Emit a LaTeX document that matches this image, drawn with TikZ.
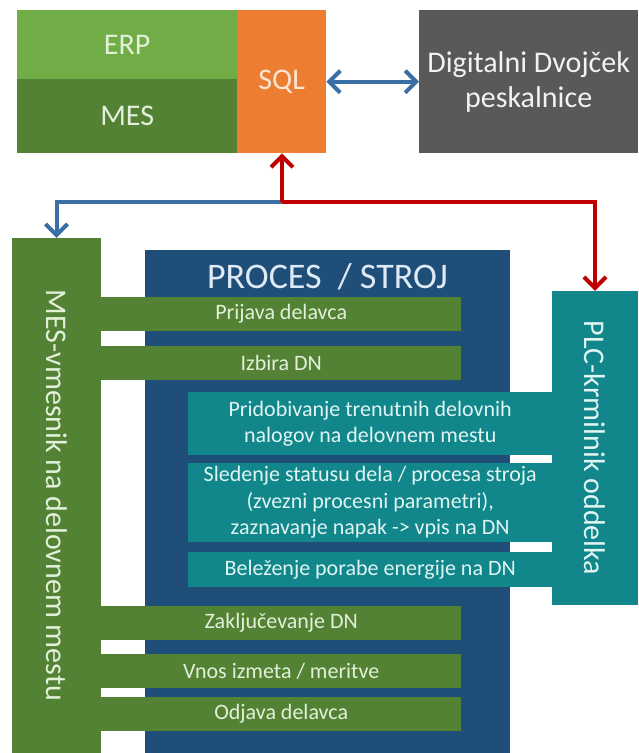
\documentclass[tikz,border=0pt]{standalone}
\usepackage{fontspec}
\setmainfont{Carlito}
\usetikzlibrary{arrows.meta}

\definecolor{erpgreen}{HTML}{70AD47}
\definecolor{mesgreen}{HTML}{548235}
\definecolor{sqlorange}{HTML}{ED7D31}
\definecolor{twingray}{HTML}{595959}
\definecolor{procblue}{HTML}{1F4E79}
\definecolor{plcteal}{HTML}{11878B}
\definecolor{linkblue}{HTML}{3A6FA6}
\definecolor{linkred}{HTML}{C00000}
\definecolor{greentext}{HTML}{E2F0D9}
\definecolor{orangetext}{HTML}{FBE5D6}
\definecolor{graytext}{HTML}{F2F2F2}
\definecolor{blutext}{HTML}{DEEBF7}
\definecolor{tealtext}{HTML}{E0F4F2}

\begin{document}
\begin{tikzpicture}[x=1pt, y=-1pt,
    box/.style={anchor=north west, inner sep=0pt, align=center},
    bigtext/.style={font=\fontsize{30}{35}\selectfont},
    bartext/.style={font=\fontsize{22}{26.5}\selectfont},
    greenbar/.style={box, fill=mesgreen, text=greentext, bartext, minimum width=360pt, minimum height=34pt},
    tealbar/.style={box, fill=plcteal, text=tealtext, bartext, minimum width=364pt},
    upright/.style={inner sep=0pt, rotate=-90, bigtext},
    link/.style={line width=4pt, -{Straight Barb[length=11pt,width=22pt]}}]
  \useasboundingbox (0,0) rectangle (638,753);

  % top row
  \node[box, fill=erpgreen, text=greentext, bigtext, minimum width=220pt, minimum height=69pt] (erp) at (17,10) {ERP};
  \node[box, fill=mesgreen, text=greentext, bigtext, minimum width=220pt, minimum height=74pt] (mes) at (17,79) {MES};
  \node[box, fill=sqlorange, text=orangetext, bigtext, minimum width=89pt, minimum height=143pt] (sql) at (237,10) {SQL};
  \node[box, fill=twingray, text=graytext, bigtext, minimum width=219pt, minimum height=143pt] (twin) at (419,10) {Digitalni Dvojček\\peskalnice};

  % process / machine
  \node[box, fill=procblue, minimum width=365pt, minimum height=503pt] (proces) at (145,250) {};
  \node[font=\fontsize{36}{40}\selectfont, text=blutext] (title) at (327.5,277) {PROCES\ \ / STROJ};

  \node[upright, fill=mesgreen, text=greentext, minimum width=515pt, minimum height=89pt] (vmesnik) at (56.5,495.5) {MES-vmesnik na delovnem mestu};
  \node[upright, fill=plcteal, text=tealtext, minimum width=314pt, minimum height=86pt] (plc) at (595,448) {PLC-krmilnik oddelka};

  \node[greenbar] (prijava) at (101,297) {Prijava delavca};
  \node[greenbar] (izbira) at (101,346) {Izbira DN};
  \node[tealbar, minimum height=63pt] (nalogi) at (188,392) {Pridobivanje trenutnih delovnih\\nalogov na delovnem mestu};
  \node[tealbar, minimum height=79pt] (sledenje) at (188,463) {Sledenje statusu dela / procesa stroja\\(zvezni procesni parametri),\\zaznavanje napak -> vpis na DN};
  \node[tealbar, minimum height=35pt] (energija) at (188,552) {Beleženje porabe energije na DN};
  \node[greenbar] (zakljucek) at (101,606) {Zaključevanje DN};
  \node[greenbar] (vnos) at (101,654) {Vnos izmeta / meritve};
  \node[greenbar] (odjava) at (101,697) {Odjava delavca};

  % links
  \coordinate (hub) at (282,202);
  \draw[link, draw=linkblue, {Straight Barb[length=11pt,width=22pt]}-{Straight Barb[length=11pt,width=22pt]}] (sql.east) -- (twin.west);
  \draw[link, draw=linkblue] (hub) -| (vmesnik.west);
  \draw[link, draw=linkred] (hub) -- (hub |- sql.south);
  \draw[link, draw=linkred] (hub) -| (plc.west);
\end{tikzpicture}
\end{document}
